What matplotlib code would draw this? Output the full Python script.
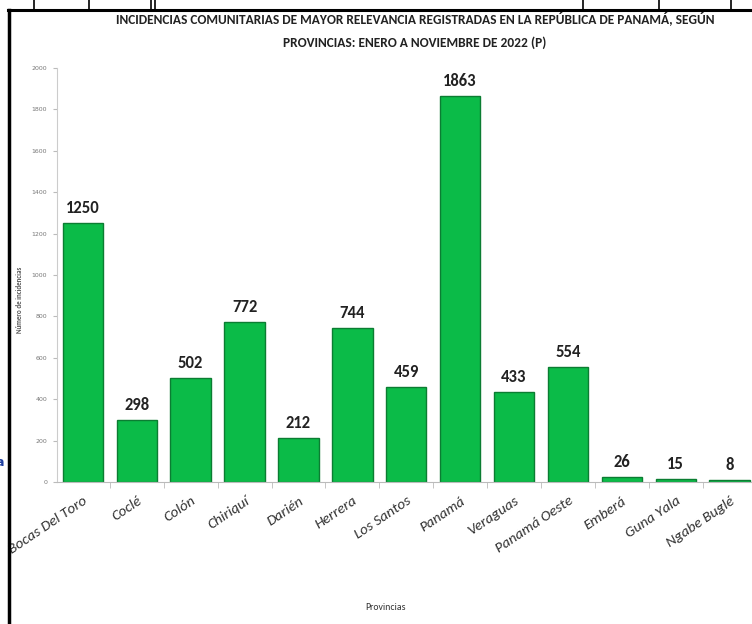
import matplotlib.pyplot as plt
from matplotlib.lines import Line2D
from matplotlib.transforms import ScaledTranslation

provincias = ['Bocas Del Toro', 'Coclé', 'Colón', 'Chiriquí', 'Darién', 'Herrera',
              'Los Santos', 'Panamá', 'Veraguas', 'Panamá Oeste', 'Emberá',
              'Guna Yala', 'Ngabe Buglé']
incidencias = [1250, 298, 502, 772, 212, 744, 459, 1863, 433, 554, 26, 15, 8]
y_ticks = list(range(0, 2001, 200))

titulo = ('INCIDENCIAS COMUNITARIAS DE MAYOR RELEVANCIA REGISTRADAS EN LA REPÚBLICA DE PANAMÁ, SEGÚN\n'
          'PROVINCIAS: ENERO A NOVIEMBRE DE 2022 (P)')

W, H = 752, 624
fig = plt.figure(figsize=(W / 100, H / 100), dpi=100)
calibri = ['Carlito', 'DejaVu Sans']

# area del grafico en pixeles de la imagen
left_px, bottom_px, top_px = 57, 482, 68
span = 13.03 * 53.9
ax = fig.add_axes([left_px / W, 1 - bottom_px / H, span / W, (bottom_px - top_px) / H])

x = list(range(len(provincias)))
bars = ax.bar(x, incidencias, width=0.75, color='#0bbb48', edgecolor='#0b7d32', linewidth=1.0)
for b, v in zip(bars, incidencias):
    ax.annotate(str(v), (b.get_x() + b.get_width() / 2, v), xytext=(0, 5),
                textcoords='offset points', ha='center', va='bottom',
                fontsize=12, fontweight='bold', color='#222222', family=calibri)

ax.set_xlim(-0.48, 12.55)
ax.set_ylim(0, 2000)
ax.set_yticks(y_ticks)
ax.set_yticklabels([str(t) for t in y_ticks], fontsize=4.5, color='#777777')
ax.set_xticks(x)
ax.set_xticklabels(provincias, rotation=34, ha='right', rotation_mode='anchor',
                   fontsize=11, style='italic', color='#333333', family=calibri)
shift = ScaledTranslation(8 / 100, 0, fig.dpi_scale_trans)
for lab in ax.get_xticklabels():
    lab.set_transform(lab.get_transform() + shift)
ax.tick_params(axis='x', length=0, pad=9)
ax.tick_params(axis='y', length=3, color='#bbbbbb', pad=4)
ax.set_xticks([i + 0.5 for i in x[:-1]], minor=True)
ax.tick_params(axis='x', which='minor', length=4, color='#bbbbbb')

for s in ['top', 'right']:
    ax.spines[s].set_visible(False)
ax.spines['left'].set_color('#cccccc')
ax.spines['bottom'].set_color('#bbbbbb')

fig.text(20 / W, 1 - 300 / H, 'Número de incidencias', rotation=90, ha='center', va='center',
         fontsize=5, color='#555555', fontweight='bold', family=calibri)
fig.text(385 / W, 1 - 607 / H, 'Provincias', ha='center', va='center',
         fontsize=7, color='#333333', family=calibri)
fig.text(415 / W, 1 - 30 / H, titulo, ha='center', va='center', fontsize=9.6,
         fontweight='bold', color='#222222', family=calibri, linespacing=2.1)

# marco de la captura
fig.add_artist(Line2D([9 / W, 9 / W], [0, 1 - 10 / H], color='black', lw=2.5))
fig.add_artist(Line2D([8 / W, 1], [1 - 10 / H, 1 - 10 / H], color='black', lw=2.2))
for xp in [34, 89, 151, 155, 583, 659, 731]:
    fig.add_artist(Line2D([xp / W, xp / W], [1 - 10 / H, 1], color='black', lw=1.2))
fig.text(0, 1 - 462 / H, 'a', color='#1f3fa0', fontsize=9, fontweight='bold', ha='center', va='center')

fig.savefig('out.png', dpi=100)
